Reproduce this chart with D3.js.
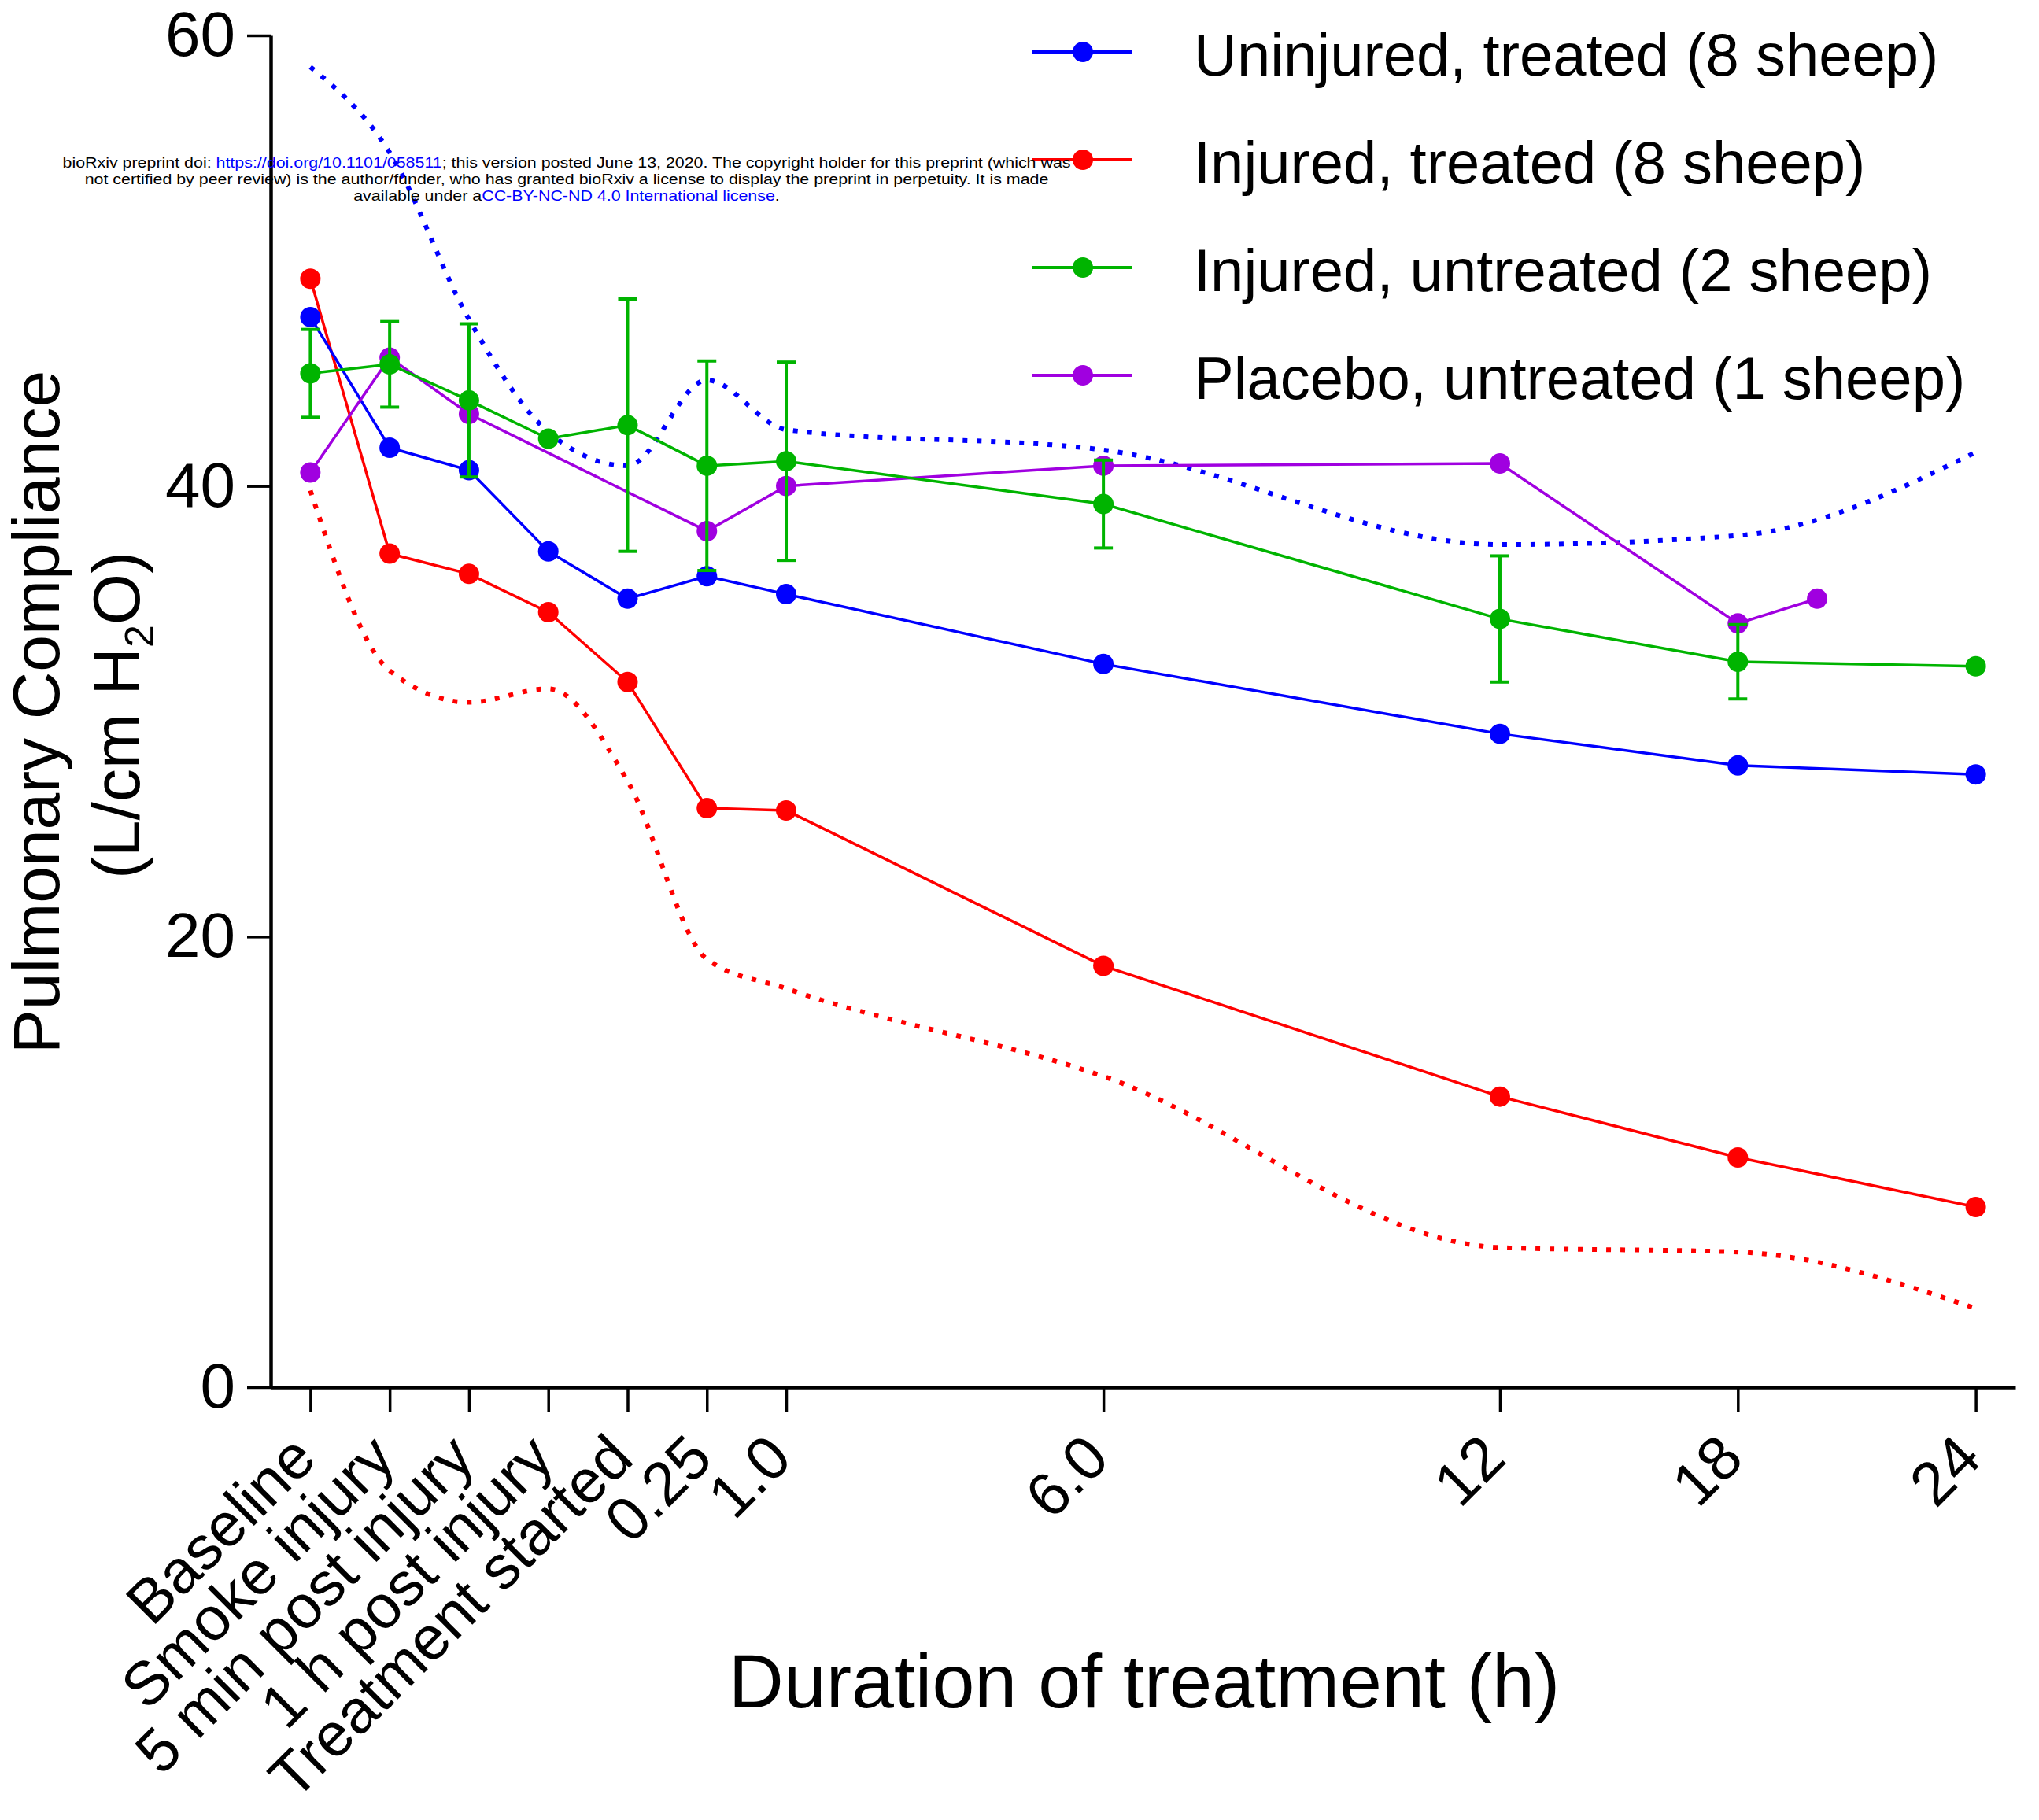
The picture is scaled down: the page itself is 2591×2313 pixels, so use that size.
<!DOCTYPE html>
<html>
<head>
<meta charset="utf-8">
<script src="https://cdn.jsdelivr.net/npm/d3@7"></script>
<style>
  body { margin: 0; background: #fff; }
  svg { display: block; font-family: Arial, "Liberation Sans", sans-serif; }
</style>
</head>
<body>
<div id="chart"></div>
<script>
// slot positions along the x axis (the axis is not linear in time)
var slotPos = [0, 1, 2, 3, 4, 5, 6, 10, 15, 18, 21];
var tickLabels = ["Baseline", "Smoke injury", "5 min post injury", "1 h post injury",
    "Treatment started", "0.25", "1.0", "6.0", "12", "18", "24"];
var yTicks = [0, 20, 40, 60];

var uninjTreated = [47.5, 41.7, 40.7, 37.1, 35.0, 36.0, 35.2, 32.1, 29.0, 27.6, 27.2];
var injTreated = [49.2, 37.0, 36.1, 34.4, 31.3, 25.7, 25.6, 18.7, 12.9, 10.2, 8.0];
var injUntreated = [45.0, 45.4, 43.8, 42.1, 42.7, 40.9, 41.1, 39.2, 34.1, 32.2, 32.0];
var injUntreatedErr = [1.95, 1.9, 3.4, 0, 5.6, 4.65, 4.4, 1.95, 2.8, 1.65, 0];
var placeboSlots = [0, 1, 2, 5, 6, 10, 15, 18, 19];
var placebo = [40.6, 45.7, 43.2, 38.0, 40.0, 40.9, 41.0, 33.9, 35.0];

// dotted curves
var uninjTreatedDotted = [58.6, 54.8, 47.4, 42.4, 40.9, 44.7, 42.5, 41.6, 37.4, 37.8, 41.5];
var injTreatedDotted = [39.8, 31.8, 30.4, 31.0, 26.9, 19.0, 17.7, 13.8, 6.2, 6.0, 3.5];

var seriesNames = ["Uninjured, treated (8 sheep)", "Injured, treated (8 sheep)",
    "Injured, untreated (2 sheep)", "Placebo, untreated (1 sheep)"];
var seriesColors = ["#0000ff", "#ff0000", "#00b400", "#a000e0"];

var width = 2591, height = 2313;
var x = d3.scaleLinear().domain([-0.5, 21.5]).range([344, 2561]);
var y = d3.scaleLinear().domain([0, 60]).range([1763, 45]);

var svg = d3.select("#chart").append("svg")
    .attr("width", width).attr("height", height);
svg.append("rect").attr("width", width).attr("height", height).attr("fill", "#fff");

function pts(slots, vals) {
    return vals.map(function (v, i) { return { s: slots[i], v: v }; });
}

// axes
var yAxis = svg.append("g")
    .attr("transform", "translate(" + x(-0.5) + ",0)")
    .call(d3.axisLeft(y).tickValues(yTicks).tickSize(30).tickSizeOuter(0).tickPadding(15));
yAxis.select(".domain").attr("stroke-width", 4.5);
yAxis.selectAll(".tick line").attr("stroke-width", 3.5);
yAxis.selectAll(".tick text").attr("font-size", 80).attr("fill", "#000")
    .attr("font-family", "Arial, 'Liberation Sans', sans-serif");

var xAxis = svg.append("g")
    .attr("transform", "translate(0," + y(0) + ")")
    .call(d3.axisBottom(x).tickValues(slotPos).tickSize(32).tickSizeOuter(0)
        .tickFormat(function (d, i) { return tickLabels[i]; }));
xAxis.select(".domain").attr("stroke-width", 4.5);
xAxis.selectAll(".tick line").attr("stroke-width", 3.5);
xAxis.selectAll(".tick text")
    .attr("font-size", 78).attr("fill", "#000")
    .attr("font-family", "Arial, 'Liberation Sans', sans-serif")
    .attr("text-anchor", "end")
    .attr("x", 0).attr("y", 0).attr("dy", null)
    .attr("transform", "translate(10,94) rotate(-45)");

// axis titles
svg.append("text")
    .attr("x", 1454).attr("y", 2170)
    .attr("text-anchor", "middle").attr("font-size", 97)
    .text("Duration of treatment (h)");

var yt = svg.append("g").attr("transform", "rotate(-90)");
yt.append("text")
    .attr("x", -905).attr("y", 75)
    .attr("text-anchor", "middle").attr("font-size", 84)
    .text("Pulmonary Compliance");
var yt2 = yt.append("text")
    .attr("x", -909).attr("y", 177)
    .attr("text-anchor", "middle").attr("font-size", 84);
yt2.append("tspan").text("(L/cm H");
yt2.append("tspan").attr("font-size", 52).attr("dy", 18).text("2");
yt2.append("tspan").attr("dy", -18).text("O)");

// dotted curves
var smooth = d3.line()
    .curve(d3.curveMonotoneX)
    .x(function (d) { return x(d.s); })
    .y(function (d) { return y(d.v); });

[[uninjTreatedDotted, seriesColors[0]], [injTreatedDotted, seriesColors[1]]].forEach(function (c) {
    svg.append("path")
        .attr("d", smooth(pts(slotPos, c[0])))
        .attr("fill", "none")
        .attr("stroke", c[1])
        .attr("stroke-width", 6)
        .attr("stroke-dasharray", "6,12");
});

var line = d3.line()
    .x(function (d) { return x(d.s); })
    .y(function (d) { return y(d.v); });

function drawSeries(data, color) {
    var g = svg.append("g");
    g.append("path")
        .attr("d", line(data))
        .attr("fill", "none")
        .attr("stroke", color)
        .attr("stroke-width", 3.5);
    g.selectAll("circle").data(data).enter().append("circle")
        .attr("cx", function (d) { return x(d.s); })
        .attr("cy", function (d) { return y(d.v); })
        .attr("r", 13)
        .attr("fill", color);
    return g;
}

drawSeries(pts(slotPos, injTreated), seriesColors[1]);
drawSeries(pts(slotPos, uninjTreated), seriesColors[0]);
drawSeries(pts(placeboSlots, placebo), seriesColors[3]);

// green error bars
var greenPts = pts(slotPos, injUntreated).map(function (d, i) {
    d.e = injUntreatedErr[i];
    return d;
});
var eb = svg.append("g").attr("stroke", seriesColors[2]).attr("stroke-width", 4);
greenPts.filter(function (d) { return d.e > 0; }).forEach(function (d) {
    var cx = x(d.s), y1 = y(d.v + d.e), y2 = y(d.v - d.e);
    eb.append("line").attr("x1", cx).attr("x2", cx).attr("y1", y1).attr("y2", y2);
    eb.append("line").attr("x1", cx - 12).attr("x2", cx + 12).attr("y1", y1).attr("y2", y1);
    eb.append("line").attr("x1", cx - 12).attr("x2", cx + 12).attr("y1", y2).attr("y2", y2);
});
drawSeries(greenPts, seriesColors[2]);

// legend
var legend = svg.append("g");
seriesNames.forEach(function (name, i) {
    var ry = 66 + i * 137;
    legend.append("line")
        .attr("x1", 1312).attr("x2", 1439).attr("y1", ry).attr("y2", ry)
        .attr("stroke", seriesColors[i]).attr("stroke-width", 4);
    legend.append("circle")
        .attr("cx", 1376).attr("cy", ry).attr("r", 13)
        .attr("fill", seriesColors[i]);
    legend.append("text")
        .attr("x", 1517).attr("y", ry + 30)
        .attr("font-size", 76)
        .text(name);
});

// bioRxiv stamp
var stamp = svg.append("g").attr("font-size", 18).attr("text-anchor", "middle");
var stampLines = [
    [["bioRxiv preprint doi: ", "#000"], ["https://doi.org/10.1101/058511", "#0000ff"],
     ["; this version posted June 13, 2020. The copyright holder for this preprint (which was", "#000"]],
    [["not certified by peer review) is the author/funder, who has granted bioRxiv a license to display the preprint in perpetuity. It is made", "#000"]],
    [["available under a", "#000"], ["CC-BY-NC-ND 4.0 International license", "#0000ff"], [".", "#000"]]
];
var stampInner = stamp.append("g");
stampLines.forEach(function (parts, i) {
    var t = stampInner.append("text").attr("x", 0).attr("y", 213 + i * 21);
    parts.forEach(function (p) {
        t.append("tspan").attr("fill", p[1]).text(p[0]);
    });
});
var firstLen = stampInner.select("text").node().getComputedTextLength();
var sx = 1282 / firstLen;
stampInner.attr("transform", "translate(720,0) scale(" + sx + ",1)");
</script>
</body>
</html>
